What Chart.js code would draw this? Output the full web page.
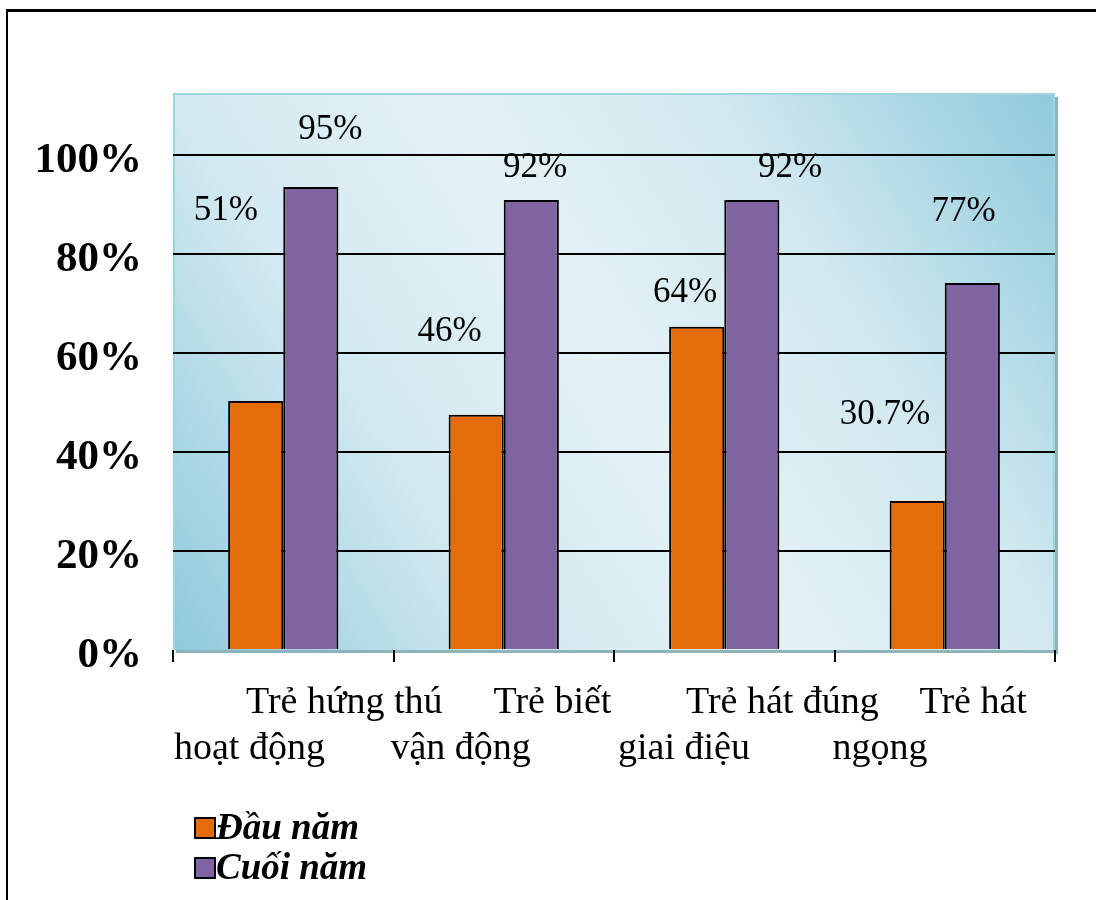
<!DOCTYPE html>
<html><head><meta charset="utf-8">
<script src="https://cdn.jsdelivr.net/npm/chart.js@4.4.1/dist/chart.umd.min.js"></script>
<style>
html,body{margin:0;padding:0;background:#fff;overflow:hidden;}
#wrap{position:relative;width:1096px;height:900px;overflow:hidden;}
#frame{position:absolute;left:6px;top:9px;width:1200px;height:1000px;border-left:2px solid #000;border-top:3px solid #000;pointer-events:none;}
canvas{position:absolute;left:0;top:0;}
</style></head><body>
<div id="wrap"><canvas id="c" width="1096" height="900"></canvas><div id="frame"></div></div>
<script>
// ---- data ----
const categories = [["Trẻ hứng thú","hoạt động"],["Trẻ biết","vận động"],["Trẻ hát đúng","giai điệu"],["Trẻ hát","ngọng"]];
const seriesNames = ["Đầu năm","Cuối năm"];
const dauNam = [50.3, 47.5, 65.3, 30.1];
const cuoiNam = [93.5, 90.9, 90.9, 74.1];
const dauNamLabels = ["51%","46%","64%","30.7%"];
const cuoiNamLabels = ["95%","92%","92%","77%"];
const yTickValues = [0,20,40,60,80,100];
const yTickLabels = ["0%","20%","40%","60%","80%","100%"];

// ---- label placement (category index, axis value) ----
const dauNamLabelPos = [[-0.26,88.7],[0.754,64.2],[1.822,72.1],[2.729,47.5]];
const cuoiNamLabelPos = [[0.214,105],[1.142,97.4],[2.298,97.4],[3.085,88.5]];
const line1Indent = [73,100,72,85];
const line2Indent = [1,-3,4,-2];

const SERIF = '"Liberation Serif","Times New Roman",serif';
const colors = ['#E46C0A','#8064A2'];

const bgPlugin = {
  id:'bg',
  beforeDraw(chart){
    const {ctx, chartArea:a} = chart;
    ctx.save();
    ctx.fillStyle = '#8db3bd';
    ctx.fillRect(a.left+3, a.bottom, a.right-a.left, 3);
    ctx.fillRect(a.right, a.top+4, 3, a.bottom-a.top);
    const g = ctx.createLinearGradient(a.left, a.bottom, a.right, a.top);
    g.addColorStop(0,'#8ecadb');
    g.addColorStop(0.28,'#d2e9f0');
    g.addColorStop(0.5,'#e4f2f6');
    g.addColorStop(0.72,'#d2e9f0');
    g.addColorStop(1,'#8ecadb');
    ctx.fillStyle = g;
    ctx.fillRect(a.left, a.top, a.right-a.left, a.bottom-a.top);
    ctx.strokeStyle = '#9fd4e1';
    ctx.lineWidth = 2;
    ctx.beginPath();
    ctx.moveTo(a.left+1, a.bottom);
    ctx.lineTo(a.left+1, a.top+1);
    ctx.lineTo(a.right-1, a.top+1);
    ctx.lineTo(a.right-1, a.bottom);
    ctx.stroke();
    ctx.restore();
  }
};

const textPlugin = {
  id:'texts',
  afterDatasetsDraw(chart){
    const {ctx} = chart;
    const xs = chart.scales.x, ys = chart.scales.y;
    ctx.save();
    ctx.fillStyle = '#000';
    // data labels
    ctx.font = '35px ' + SERIF;
    ctx.textAlign = 'center';
    ctx.textBaseline = 'middle';
    const sets = [[dauNamLabels, dauNamLabelPos],[cuoiNamLabels, cuoiNamLabelPos]];
    sets.forEach(([txts, pos]) => {
      txts.forEach((t,i) => {
        ctx.fillText(t, xs.getPixelForValue(pos[i][0]), ys.getPixelForValue(pos[i][1]));
      });
    });
    // y tick labels
    ctx.font = 'bold 43px ' + SERIF;
    ctx.textAlign = 'right';
    yTickValues.forEach((v,i) => {
      ctx.fillText(yTickLabels[i], xs.left - 31, ys.getPixelForValue(v) + 6);
    });
    // x category labels
    ctx.font = '38px ' + SERIF;
    ctx.textAlign = 'left';
    ctx.textBaseline = 'alphabetic';
    categories.forEach((lines,i) => {
      const left = xs.getPixelForValue(i - 0.5);
      ctx.fillText(lines[0], left + line1Indent[i], 713);
      ctx.fillText(lines[1], left + line2Indent[i], 759);
    });
    // legend
    ctx.font = 'italic bold 37px ' + SERIF;
    seriesNames.forEach((n,i) => {
      const y = 818 + i*40;
      ctx.fillStyle = colors[i];
      ctx.fillRect(195, y, 20, 20);
      ctx.strokeStyle = '#000';
      ctx.lineWidth = 2;
      ctx.strokeRect(195, y, 20, 20);
      ctx.fillStyle = '#000';
      ctx.fillText(n, 216, y + 21);
    });
    ctx.restore();
  }
};

new Chart(document.getElementById('c').getContext('2d'), {
  type:'bar',
  data:{
    labels: categories.map(c => c.join(' ')),
    datasets:[
      {label: seriesNames[0], data: dauNam, backgroundColor: colors[0], borderColor:'#000', borderWidth:2, categoryPercentage:0.5, barPercentage:1},
      {label: seriesNames[1], data: cuoiNam, backgroundColor: colors[1], borderColor:'#000', borderWidth:2, categoryPercentage:0.5, barPercentage:1}
    ]
  },
  options:{
    responsive:false, animation:false, devicePixelRatio:1,
    layout:{padding:{left:0, top:93, right:41, bottom:0}},
    plugins:{legend:{display:false}, tooltip:{enabled:false}},
    scales:{
      x:{
        offset:true,
        grid:{offset:true, drawOnChartArea:false, drawTicks:true, tickLength:12, color:'#000', lineWidth:2},
        border:{display:false},
        ticks:{display:false},
        afterFit(s){ s.height = 250; }
      },
      y:{
        min:0, max:112.5,
        ticks:{display:false, stepSize:20},
        afterBuildTicks(s){ s.ticks = yTickValues.map(v => ({value:v})); },
        grid:{color: c => (c.tick && c.tick.value === 0) ? 'rgba(0,0,0,0)' : '#000', lineWidth:2, drawTicks:false},
        border:{display:false},
        afterFit(s){ s.width = 173; }
      }
    }
  },
  plugins:[bgPlugin, textPlugin]
});
</script>
</body></html>
